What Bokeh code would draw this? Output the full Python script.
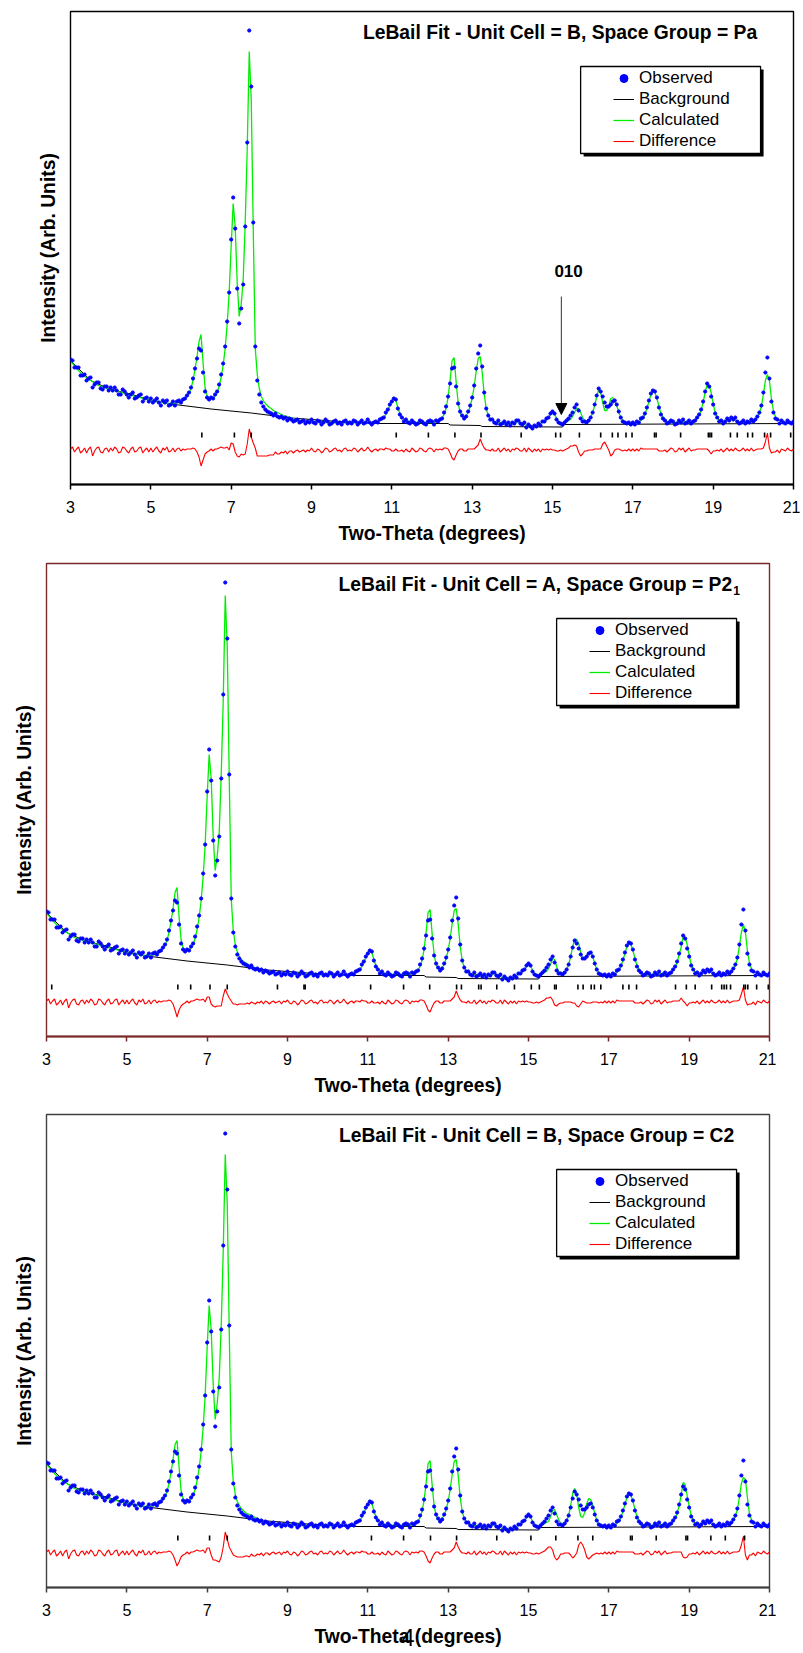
from bokeh.plotting import figure
from bokeh.models import (BoxAnnotation, Label, Arrow, NormalHead, FixedTicker, LinearAxis,
                          ColumnDataSource, Range1d, Legend, LegendItem, Spacer)
from bokeh.layouts import column, row
from bokeh.embed import file_html
from bokeh.resources import INLINE

# ---------------- data ----------------
START, STEP, NPTS = 3.0, 0.05, 361
two_theta = [round(START + STEP * i, 2) for i in range(NPTS)]

OBS = [
    125,124,117,117,117,109,109,110,104,106,107,97,100,102,102,96,95,98,98,94,
    97,94,97,94,90,90,95,93,90,87,90,92,86,87,89,90,83,86,87,83,
    86,82,84,86,82,79,84,82,84,79,80,83,79,83,84,82,85,86,89,92,
    97,106,116,126,136,134,112,93,87,85,87,86,90,93,100,110,121,138,163,192,
    245,287,256,196,161,176,200,258,342,454,398,262,138,104,90,82,78,75,73,72,
    71,69,71,68,67,68,66,67,64,66,65,63,64,65,62,63,64,61,63,62,
    65,62,61,64,63,60,62,65,63,60,61,63,64,61,62,60,63,64,61,62,
    61,64,63,60,62,64,61,62,65,62,60,62,63,62,65,66,67,72,75,80,
    83,86,85,76,70,67,63,65,62,61,64,62,60,61,64,63,61,60,63,64,
    63,60,64,63,65,66,72,78,88,101,116,117,98,81,73,69,66,68,73,79,
    87,99,116,131,139,118,92,76,69,65,65,62,61,64,60,61,63,60,62,59,
    62,61,64,64,61,60,62,57,60,58,56,59,58,61,59,63,63,66,67,71,
    73,71,65,62,61,60,62,64,66,69,72,77,80,74,66,63,63,62,64,67,
    72,80,89,96,93,88,82,78,78,80,83,84,80,73,67,63,62,61,62,60,
    62,60,63,62,66,67,71,77,84,91,94,93,87,77,70,66,64,61,62,64,
    63,60,61,64,62,65,61,62,64,61,63,64,67,70,75,83,93,101,98,88,
    80,71,67,63,64,61,63,66,64,67,65,67,63,61,62,64,61,63,62,65,
    63,65,68,72,79,92,112,127,106,83,72,66,65,61,64,62,61,64,62,61,
    63,
]

CALC_PA = [
    124,121,119,116,114,112,110,108,107,105,104,103,101,100,99,98,98,97,96,96,
    95,95,94,93,93,92,92,91,91,90,89,89,88,88,87,87,86,86,85,85,
    84,84,83,83,83,82,82,82,81,81,81,81,81,82,82,83,84,86,88,91,
    96,104,115,128,143,150,122,97,89,86,86,87,89,92,98,107,119,136,160,192,
    238,281,258,202,168,180,205,262,336,433,385,255,136,110,96,88,84,81,79,77,
    76,74,73,72,71,70,69,68,68,67,66,66,65,65,64,64,64,63,63,63,
    63,63,63,63,63,63,63,63,62,62,62,62,62,62,62,62,62,62,62,62,
    62,62,62,62,62,62,62,62,62,62,62,62,62,63,64,65,67,70,74,79,
    84,87,84,77,71,67,65,64,63,63,62,62,62,62,62,62,62,62,62,62,
    62,62,63,63,64,66,70,76,87,104,124,127,103,82,72,68,67,69,72,78,
    86,98,113,126,128,112,90,76,69,66,64,63,62,62,62,61,61,61,61,61,
    61,61,62,63,62,61,60,59,58,58,58,58,59,60,61,62,63,65,67,70,
    73,71,66,63,61,61,62,63,64,65,68,72,76,76,72,67,64,63,64,67,
    72,79,88,95,92,82,74,74,78,86,87,84,79,72,67,64,62,62,61,61,
    61,61,62,63,64,66,70,76,83,90,93,92,86,78,71,67,64,63,62,62,
    62,62,62,62,62,63,63,62,62,62,63,64,66,69,74,82,92,100,99,92,
    81,72,67,64,63,63,63,64,65,66,66,65,63,62,62,62,62,62,63,63,
    64,65,67,71,78,90,104,110,104,86,74,68,65,64,63,62,62,62,62,62,
    62,
]

CALC_P21 = [
    124,121,119,116,114,112,110,108,107,105,104,103,101,100,99,98,98,97,96,96,
    95,95,94,93,93,92,92,91,91,90,89,89,88,88,87,87,86,86,85,85,
    84,84,83,83,83,82,82,82,81,81,81,81,81,82,82,83,84,86,88,91,
    96,104,115,128,144,149,120,97,89,86,86,87,89,92,98,107,119,136,160,192,
    240,282,258,200,166,180,204,262,336,441,390,258,137,106,92,85,80,77,75,74,
    72,71,71,69,69,68,67,66,66,65,65,65,64,64,63,63,63,63,62,62,
    63,63,63,63,63,63,63,63,62,62,62,62,62,62,62,62,62,62,62,62,
    62,62,62,62,62,62,62,62,62,62,62,62,62,63,64,65,67,70,74,79,
    84,87,84,77,71,67,65,64,63,63,62,62,62,62,62,62,62,62,62,62,
    62,62,63,63,64,66,70,76,87,104,124,127,103,82,72,68,67,69,72,78,
    86,98,113,126,128,112,90,76,69,66,64,63,62,62,62,61,61,61,61,61,
    61,61,62,63,62,61,60,59,58,58,58,58,59,60,61,62,63,65,67,70,
    73,71,66,63,61,61,62,63,64,65,68,72,78,77,70,65,64,63,64,67,
    72,80,90,97,97,93,84,77,78,81,84,85,80,73,67,64,62,62,61,61,
    61,61,62,63,64,66,70,76,83,90,93,92,86,78,71,67,64,63,62,62,
    62,62,62,62,62,63,63,62,62,62,63,64,66,69,74,82,89,100,99,92,
    81,72,67,64,63,63,63,64,65,66,66,65,63,62,62,62,62,62,63,63,
    64,65,67,71,78,90,104,112,104,86,74,68,65,64,63,62,62,62,62,62,
    62,
]

CALC_C2 = [
    124,121,119,116,114,112,110,108,107,105,104,103,101,100,99,98,98,97,96,96,
    95,95,94,93,93,92,92,91,91,90,89,89,88,88,87,87,86,86,85,85,
    84,84,83,83,83,82,82,82,81,81,81,81,81,82,82,83,84,86,88,91,
    96,104,115,128,143,147,121,97,89,86,86,87,89,92,98,107,119,136,160,192,
    240,282,258,203,168,184,209,262,336,433,384,256,136,106,93,86,82,79,77,75,
    74,73,72,71,70,69,68,67,67,66,65,65,64,64,63,63,63,63,62,62,
    63,63,63,63,63,63,63,63,62,62,62,62,62,62,62,62,62,62,62,62,
    62,62,62,62,62,62,62,62,62,62,62,62,62,63,64,65,67,70,74,79,
    84,87,84,77,71,67,65,64,63,63,62,62,62,62,62,62,62,62,62,62,
    62,62,63,63,64,66,70,76,87,104,124,127,103,82,72,68,67,69,72,78,
    86,98,113,126,128,112,90,76,69,66,64,63,62,62,62,61,61,61,61,61,
    61,61,62,63,62,61,60,59,58,58,58,58,59,60,61,62,63,65,67,70,
    73,71,66,63,61,61,62,63,64,65,66,71,77,78,73,68,64,63,64,67,
    72,82,94,99,93,80,71,70,75,84,89,88,82,74,67,64,62,62,61,61,
    61,61,62,63,64,66,70,76,83,90,93,92,86,78,71,67,64,63,62,62,
    62,62,62,62,62,63,63,62,62,62,63,64,66,69,74,82,92,105,103,92,
    81,72,67,64,63,63,63,64,65,66,66,65,63,62,62,62,62,62,63,63,
    64,65,67,71,78,90,104,110,108,90,74,68,65,64,63,62,62,62,62,62,
    62,
]

BG_X = [3.0, 3.5, 4.0, 4.5, 5.0, 5.6, 6.5, 7.5, 8.5, 9.5, 10.6, 12.4, 12.45, 13.2, 13.25, 15.25, 15.3, 21.0]
BG_Y = [124, 104, 95, 90.5, 84, 80, 75.5, 71.5, 66.5, 63.5, 61, 61, 59.5, 59, 58, 57.5, 60, 61]

TICKS_PA = [6.27, 7.08, 7.50, 11.11, 11.91, 12.57, 13.22, 14.22, 15.08, 15.20, 15.67, 16.20,
            16.49, 16.63, 16.83, 16.98, 17.54, 17.58, 18.19, 18.88, 18.92, 18.96, 19.43,
            19.60, 19.86, 19.98, 20.28, 20.43, 20.93]
TICKS_P21 = [3.13, 6.27, 6.59, 7.07, 7.50, 8.75, 9.41, 9.44, 11.07, 11.89, 12.54, 13.21,
             13.33, 13.76, 13.82, 14.21, 14.65, 15.07, 15.27, 15.65, 15.69, 16.23, 16.36,
             16.56, 16.64, 16.80, 17.35, 17.50, 17.69, 18.66, 18.93, 19.15, 19.56, 19.81,
             19.87, 19.93, 20.03, 20.36, 20.40, 20.46, 20.68, 20.97]
TICKS_C2 = [6.27, 7.06, 7.50, 11.09, 11.89, 12.56, 13.21, 14.21, 15.06, 15.68, 16.23, 16.60,
            17.54, 17.58, 18.18, 18.92, 18.96, 19.54, 19.90, 20.38]

X_TICKS = [3, 5, 7, 9, 11, 13, 15, 17, 19, 21]
DIFF_OFFSET = 34.5

TITLE_BASE = "LeBail Fit - Unit Cell = "
FONT = "Liberation Sans"


def make_panel(cell, group, group_sub, calc, ticks, top, height,
               border_color, arrow=False, page_number=False):
    bottom = height - top - 473
    p = figure(width=776, height=height, x_range=Range1d(3, 21), y_range=Range1d(0, 473),
               output_backend="svg", toolbar_location=None,
               min_border_left=46, min_border_right=7,
               min_border_top=top, min_border_bottom=bottom)
    p.background_fill_color = "white"
    p.border_fill_color = "white"
    p.outline_line_color = border_color
    p.outline_line_width = 1.4
    p.xgrid.visible = False
    p.ygrid.visible = False

    xa = p.xaxis[0]
    xa.ticker = FixedTicker(ticks=X_TICKS)
    xa.axis_line_color = border_color
    xa.axis_line_width = 2
    xa.major_tick_line_color = border_color
    xa.major_tick_line_width = 1.5
    xa.major_tick_out = 5
    xa.major_tick_in = 0
    xa.minor_tick_line_color = None
    xa.major_label_text_font = FONT
    xa.major_label_text_font_size = "16px"
    xa.major_label_text_color = "black"
    xa.major_label_standoff = 11
    xa.axis_label = "Two-Theta (degrees)"
    xa.axis_label_text_font = FONT
    xa.axis_label_text_font_style = "bold"
    xa.axis_label_text_font_size = "19.3px"
    xa.axis_label_text_color = "black"
    xa.axis_label_standoff = 7

    ya = p.yaxis[0]
    ya.ticker = FixedTicker(ticks=[])
    ya.axis_line_color = None
    ya.major_tick_line_color = None
    ya.minor_tick_line_color = None
    ya.major_tick_out = 0
    ya.major_label_standoff = 0
    ya.axis_label = "Intensity (Arb. Units)"
    ya.axis_label_text_font = FONT
    ya.axis_label_text_font_style = "bold"
    ya.axis_label_text_font_size = "19.3px"
    ya.axis_label_text_color = "black"
    ya.axis_label_standoff = 12

    diff = [o - c + DIFF_OFFSET for o, c in zip(OBS, calc)]
    src = ColumnDataSource(dict(x=two_theta, obs=OBS, calc=calc, diff=diff))

    bg_r = p.line(BG_X, BG_Y, line_color="black", line_width=1)
    calc_r = p.line("x", "calc", source=src, line_color="#00ee00", line_width=1.3)
    obs_r = p.scatter("x", "obs", source=src, marker="circle", size=3.2,
                      fill_color="#0000ff", line_color="#0000ff")
    diff_r = p.line("x", "diff", source=src, line_color="#ff0000", line_width=1.1)
    p.segment(x0=ticks, y0=47, x1=ticks, y1=52, line_color="black", line_width=1.6)

    # title
    title = TITLE_BASE + cell + ", Space Group = " + group
    if group_sub:
        p.add_layout(Label(x=20.087, y=452.5, text=title,
                           text_font=FONT, text_font_style="bold", text_font_size="19.3px",
                           text_align="right", text_baseline="middle", text_color="black"))
        p.add_layout(Label(x=20.10, y=446.5, text=group_sub, text_font=FONT,
                           text_font_style="bold", text_font_size="12px",
                           text_align="left", text_baseline="middle", text_color="black"))
    else:
        p.add_layout(Label(x=10.28, y=452.5, text=title,
                           text_font=FONT, text_font_style="bold", text_font_size="19.3px",
                           text_align="left", text_baseline="middle", text_color="black"))

    if arrow:
        p.add_layout(Arrow(end=NormalHead(size=11, fill_color="black", line_color="black"),
                           x_start=15.22, y_start=188, x_end=15.22, y_end=70,
                           line_color="#333333", line_width=1))
        p.add_layout(Label(x=15.40, y=214, text="010", text_font=FONT, text_font_style="bold",
                           text_font_size="17px", text_align="center", text_baseline="middle",
                           text_color="black"))

    # legend frame with drop shadow
    p.add_layout(BoxAnnotation(left=15.775, right=20.255, bottom=328, top=415,
                               fill_color="black", fill_alpha=1, line_color=None))
    p.add_layout(BoxAnnotation(left=15.70, right=20.18, bottom=331, top=418,
                               fill_color="white", fill_alpha=1, line_color="black",
                               line_width=1.3, line_alpha=1))
    legend = Legend(items=[LegendItem(label="Observed", renderers=[obs_r]),
                           LegendItem(label="Background", renderers=[bg_r]),
                           LegendItem(label="Calculated", renderers=[calc_r]),
                           LegendItem(label="Difference", renderers=[diff_r])],
                    location=(543, 333), orientation="vertical",
                    background_fill_alpha=0, border_line_alpha=0,
                    label_text_font=FONT, label_text_font_size="17px",
                    label_text_color="black",
                    glyph_width=21, glyph_height=20, label_height=20,
                    label_standoff=5, spacing=1, padding=0, margin=0)
    p.add_layout(legend)

    if page_number:
        # page number printed under the last chart (overlaps the axis title, as in the original)
        pn = LinearAxis(ticker=FixedTicker(ticks=[]), axis_label="4",
                        axis_line_color=None, major_tick_line_color=None,
                        minor_tick_line_color=None, major_tick_out=0, major_tick_in=0,
                        major_label_standoff=0, axis_label_standoff=-21,
                        axis_label_text_font=FONT, axis_label_text_font_size="24px",
                        axis_label_text_font_style="normal", axis_label_text_color="black")
        p.add_layout(pn, "below")
    return p


p1 = make_panel("B", "Pa", "", CALC_PA, TICKS_PA, 11, 548, "black", arrow=True)
p2 = make_panel("A", "P2", "1", CALC_P21, TICKS_P21, 15, 552, "#7a2a2a")
p3 = make_panel("B", "C2", "", CALC_C2, TICKS_C2, 14, 553, "#404040", page_number=True)

layout = column(row(Spacer(width=24, height=548), p1), p2, p3)
open("out.html", "w").write(file_html(layout, INLINE, title="LeBail fits"))
